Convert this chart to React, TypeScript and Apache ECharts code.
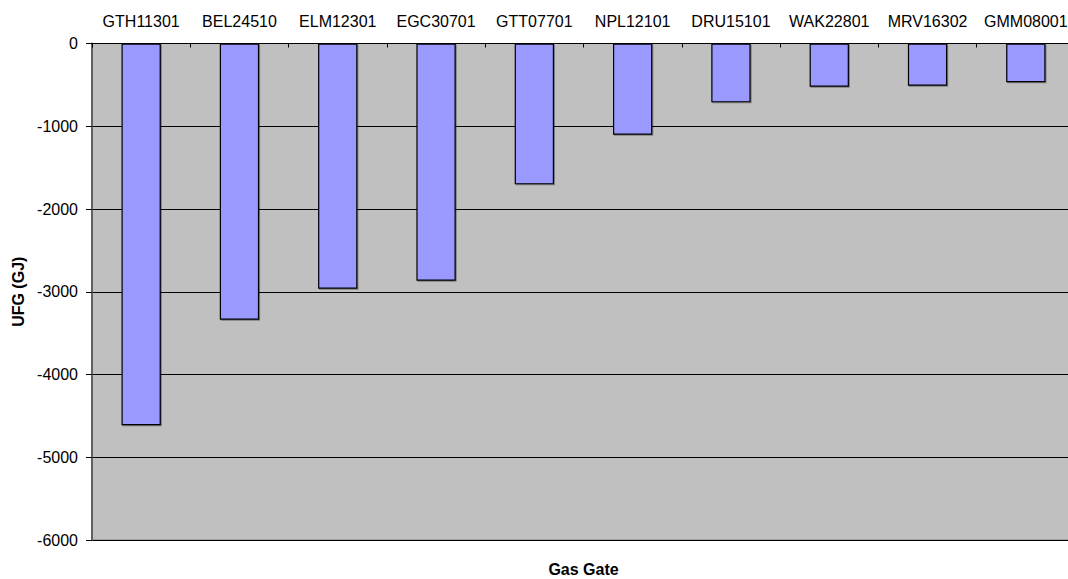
import React, { useEffect, useRef } from "react";
import * as echarts from "echarts";

const categories = [
  "GTH11301",
  "BEL24510",
  "ELM12301",
  "EGC30701",
  "GTT07701",
  "NPL12101",
  "DRU15101",
  "WAK22801",
  "MRV16302",
  "GMM08001",
];
const ufgValues = [-4614, -3338, -2963, -2866, -1702, -1102, -711, -522, -510, -469];
const yMin = -6000;
const yMax = 0;
const yInterval = 1000;
const xTitle = "Gas Gate";
const yTitle = "UFG (GJ)";

export default function App() {
  const ref = useRef<HTMLDivElement>(null);
  useEffect(() => {
    if (!ref.current) return;
    const chart = echarts.init(ref.current, undefined, { renderer: "svg" });
    const font = "Liberation Sans, Arial, Helvetica, sans-serif";
    chart.setOption({
      animation: false,
      backgroundColor: "#ffffff",
      textStyle: { fontFamily: font },
      grid: {
        show: true,
        left: 92,
        top: 43.5,
        width: 983,
        height: 496.5,
        outerBoundsMode: "none",
        containLabel: false,
        backgroundColor: "#c0c0c0",
        borderColor: "#808080",
        borderWidth: 1,
      },
      graphic: [
        {
          type: "text",
          x: 583.5,
          y: 569,
          style: {
            text: xTitle,
            fill: "#000",
            font: "bold 16px " + font,
            textAlign: "center",
            textVerticalAlign: "middle",
          },
        },
      ],
      xAxis: {
        type: "category",
        position: "top",
        data: categories,
        axisLine: { show: true, lineStyle: { color: "#000", width: 1 } },
        axisTick: { show: true, inside: true, length: 4, lineStyle: { color: "#000" } },
        axisLabel: { color: "#000", fontSize: 16, margin: 14, fontFamily: font, interval: 0 },
        splitLine: { show: false },
      },
      yAxis: {
        type: "value",
        min: yMin,
        max: yMax,
        interval: yInterval,
        name: yTitle,
        nameLocation: "middle",
        nameGap: 66,
        nameTextStyle: { fontWeight: "bold", fontSize: 16, color: "#000", fontFamily: font },
        axisLine: { show: true, lineStyle: { color: "#606060", width: 2 } },
        axisTick: { show: true, inside: false, length: 6, lineStyle: { color: "#000" } },
        axisLabel: {
          color: "#000",
          fontSize: 16,
          margin: 14,
          fontFamily: font,
          formatter: (v: number) => String(v),
        },
        splitLine: { show: true, lineStyle: { color: "#000", width: 1 } },
      },
      series: [
        {
          type: "bar",
          data: ufgValues,
          barWidth: "40%",
          itemStyle: {
            color: "#9999ff",
            borderColor: "#000",
            borderWidth: 1.2,
            shadowColor: "rgba(0,0,0,0.35)",
            shadowOffsetX: 1,
            shadowOffsetY: 1,
            shadowBlur: 0,
          },
        },
      ],
    });
    return () => chart.dispose();
  }, []);
  return (
    <div
      ref={ref}
      style={{ position: "fixed", left: 0, top: 0, width: 1068, height: 579, overflow: "hidden" }}
    />
  );
}
